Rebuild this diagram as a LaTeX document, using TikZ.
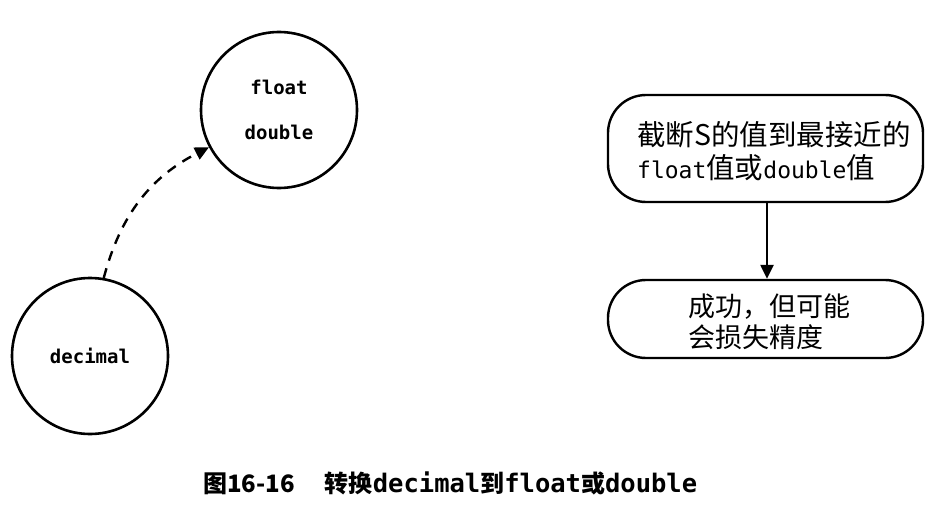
\documentclass[tikz,border=0pt]{standalone}
\usepackage{fontspec}
\setmainfont{Noto Sans CJK SC}
\newfontfamily\cjk{Noto Sans CJK SC}
\newfontfamily\mono{DejaVu Sans Mono}
\usetikzlibrary{arrows.meta}
\begin{document}
\begin{tikzpicture}[x=1pt,y=-1pt,
  circnode/.style={circle,draw,line width=2.6pt,minimum size=156pt,inner sep=0pt},
  boxnode/.style={draw,line width=2.4pt,rounded corners=38pt,minimum width=315pt,inner sep=0pt},
  ctext/.style={font=\mono\bfseries\fontsize{19}{45}\selectfont,align=center,inner sep=0pt},
  conn/.style={line width=2.4pt,-{Triangle[length=14pt,width=13pt]}}
]
\useasboundingbox (0,0) rectangle (938,511);
\node[circnode] (fd) at (279,110) {};
\node[ctext] (fdt) at (279,110) {float\\double};
\node[circnode] (dec) at (90,356) {};
\node[ctext] (dect) at (90,356) {decimal};
\draw[conn,dashed,dash pattern=on 10pt off 8pt] (dec.80) to[bend left=24] (fd.208);
\node[boxnode,minimum height=107pt] (b1) at (765.5,148.5) {};
\node[font=\cjk\fontsize{28.5}{33}\selectfont,align=left,anchor=west,inner sep=0pt] (b1t) at (637,151)
  {截断S的值到最接近的\\{\mono\fontsize{23}{33}\selectfont float}值或{\mono\fontsize{23}{33}\selectfont double}值};
\node[boxnode,minimum height=78pt] (b2) at (765.5,319) {};
\node[font=\cjk\fontsize{27}{31}\selectfont,align=left,anchor=west,inner sep=0pt] (b2t) at (688,322)
  {成功，但可能\\会损失精度};
\draw[conn] (b1.south -| 767,0) -- (b2.north -| 767,0);
\node[font=\bfseries\cjk\fontsize{24}{28}\selectfont,anchor=west,inner sep=0pt] (cap) at (203,483)
  {图16-16\hspace{30pt}转换{\mono\bfseries\fontsize{25.5}{28}\selectfont decimal}到{\mono\bfseries\fontsize{25.5}{28}\selectfont float}或{\mono\bfseries\fontsize{25.5}{28}\selectfont double}};
\end{tikzpicture}
\end{document}
